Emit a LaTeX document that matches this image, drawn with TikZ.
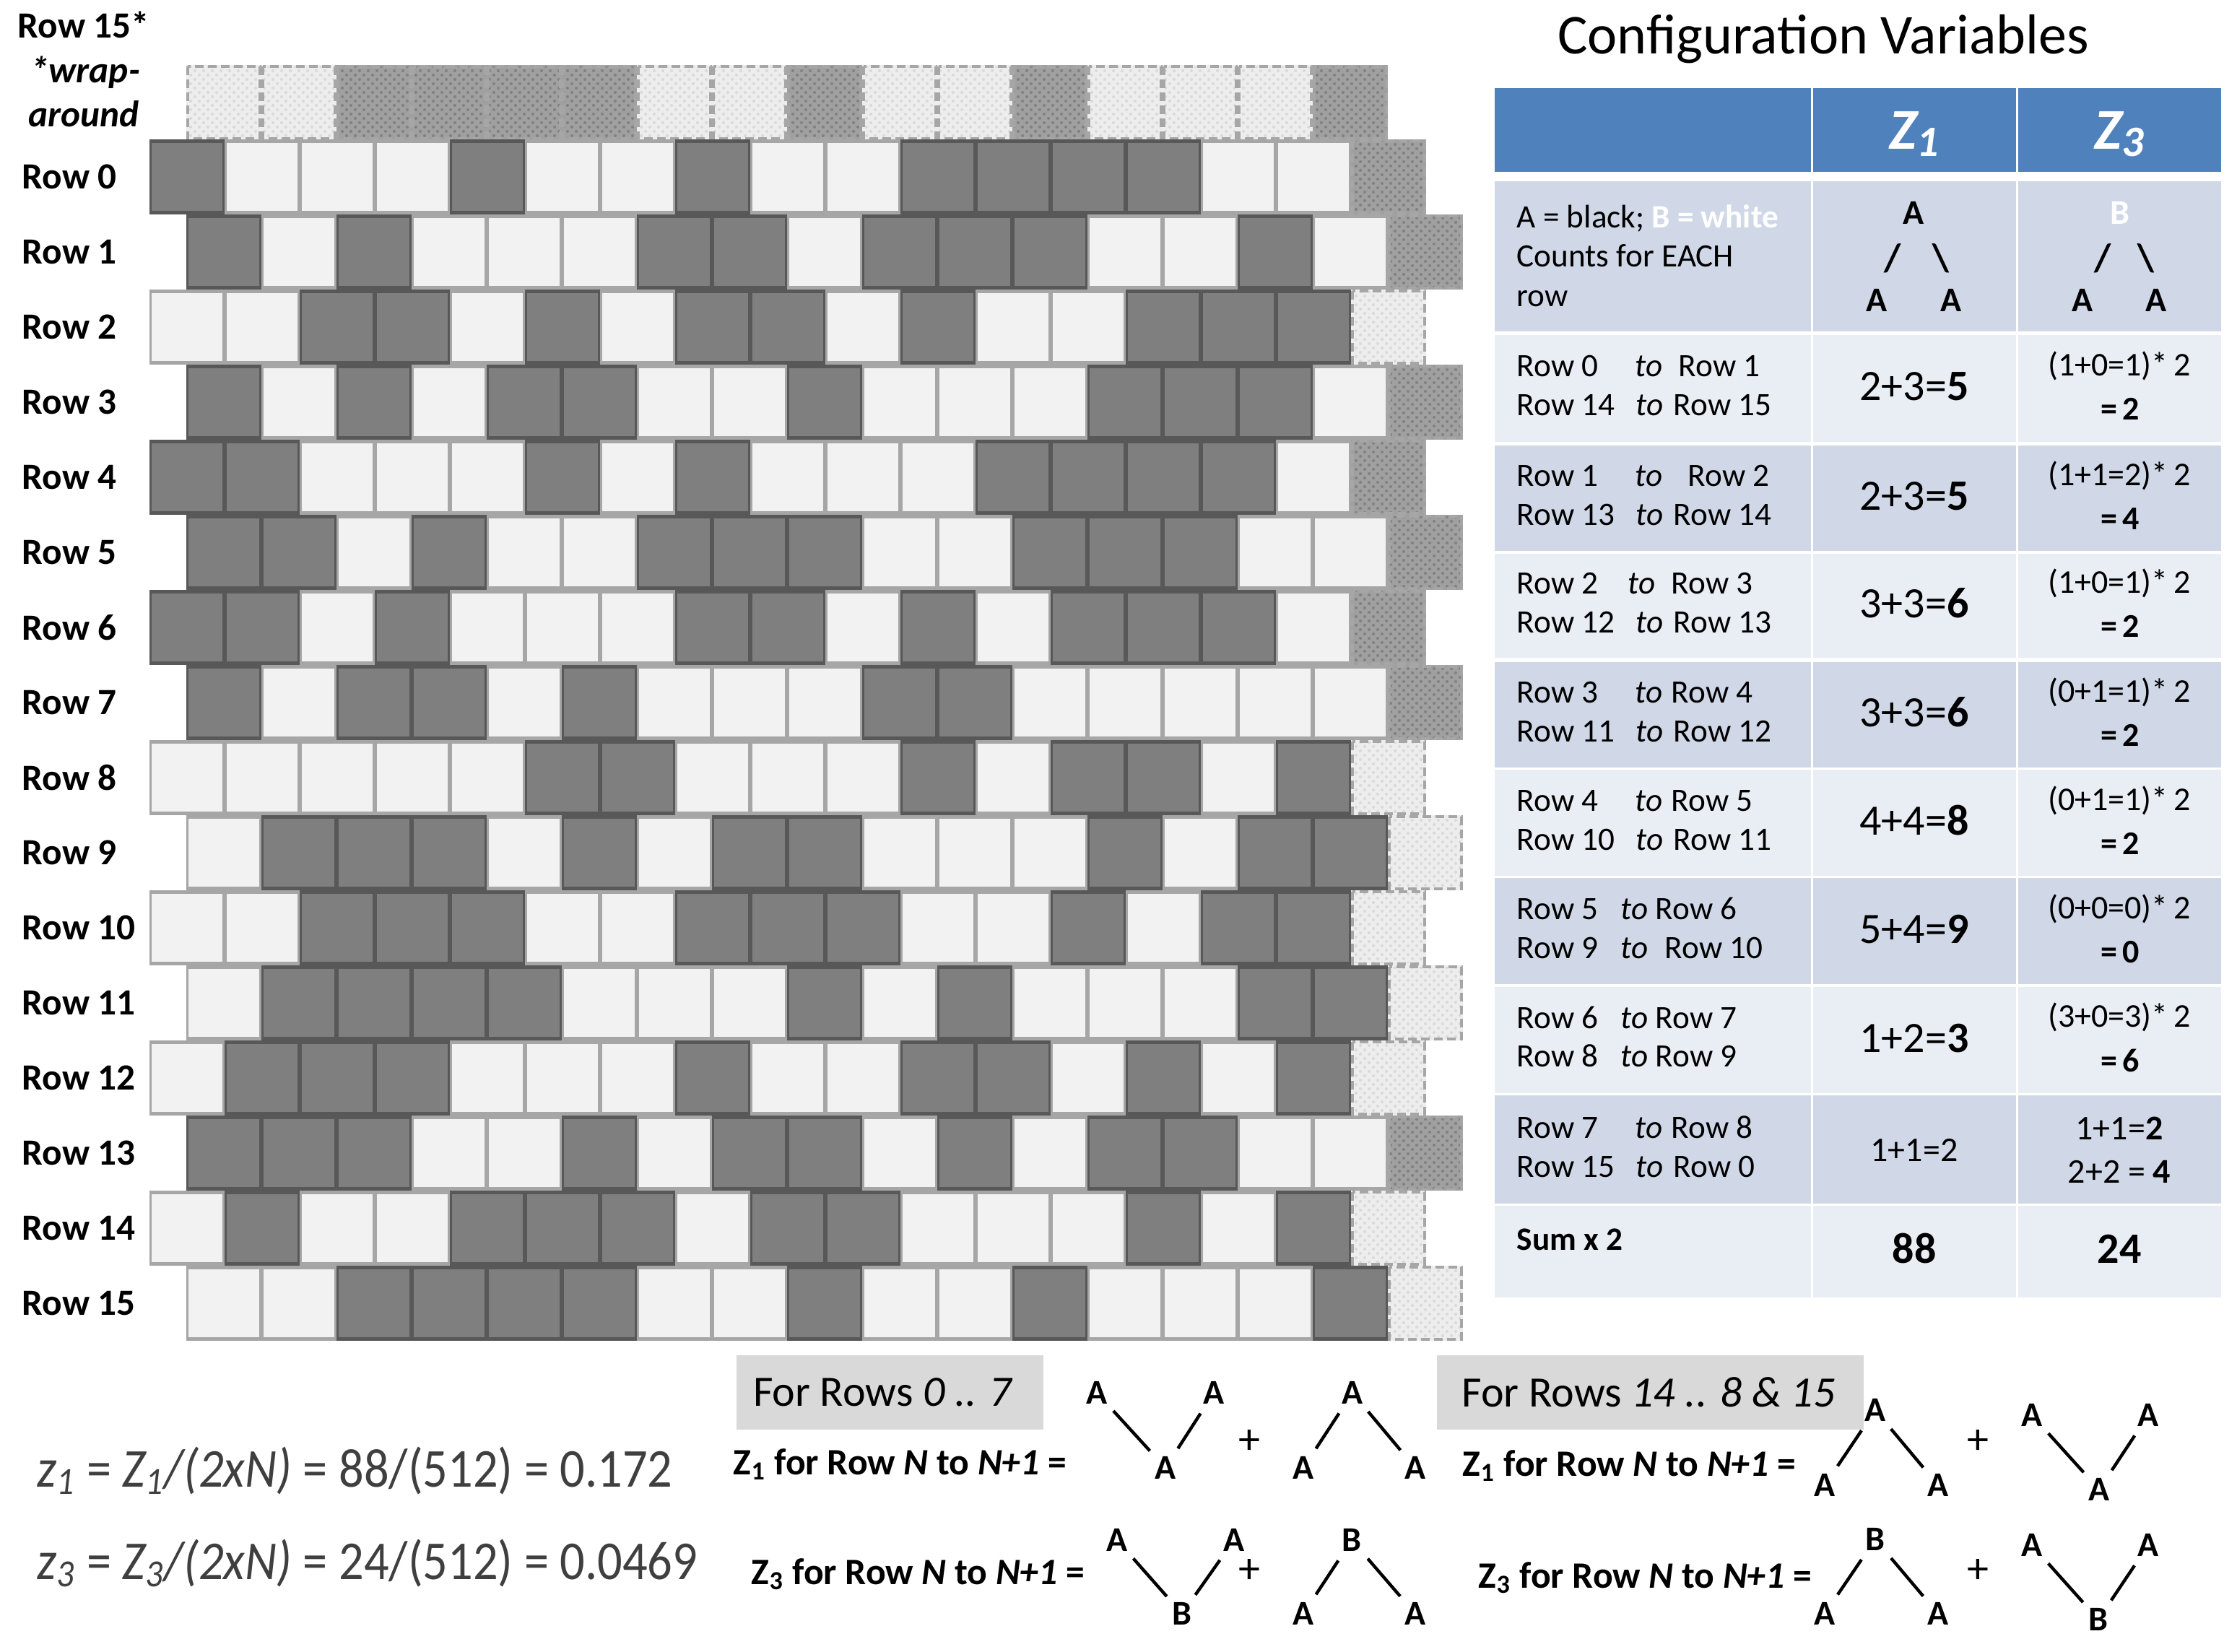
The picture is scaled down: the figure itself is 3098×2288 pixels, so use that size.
\documentclass[tikz,border=0pt]{standalone}
\usepackage{fontspec}
\usepackage{graphicx}
\setmainfont{Carlito}
\usetikzlibrary{patterns}
\definecolor{dkbrick}{HTML}{7F7F7F}
\definecolor{dkedge}{HTML}{585858}
\definecolor{ltbrick}{HTML}{F2F2F2}
\definecolor{ltedge}{HTML}{A6A6A6}
\definecolor{hdrblue}{HTML}{4F81BD}
\definecolor{banda}{HTML}{D0D8E8}
\definecolor{bandb}{HTML}{E9EDF4}
\definecolor{boxgray}{HTML}{D9D9D9}
\definecolor{txtgray}{HTML}{3F3F3F}
\definecolor{texdk}{HTML}{A0A0A0}
\definecolor{texlt}{HTML}{EDEDED}

\newcommand{\brick}[4]{%
  \fill[#4] (#1,#2) rectangle (#1+104,#2+104);
  \fill[#3] (#1+3,#2+5) rectangle (#1+101,#2+99);}
\newcommand{\wrapbrick}[3]{%
  \ifnum#3=1
    \fill[texdk] (#1,#2) rectangle (#1+104,#2+104);
    \fill[pattern=crosshatch dots, pattern color=black!50] (#1+3,#2+3) rectangle (#1+101,#2+101);
  \else
    \fill[texlt] (#1,#2) rectangle (#1+104,#2+104);
    \fill[pattern=crosshatch dots, pattern color=black!15] (#1+3,#2+3) rectangle (#1+101,#2+101);
  \fi
  \draw[ltedge, line width=1.1pt, dash pattern=on 3pt off 1.5pt] (#1+2,#2+2) rectangle (#1+102,#2+102);}
\newcommand{\tline}[6]{%
  \node[tbl, anchor=base west] (#1l) at (2100,#2) {#3};
  \node[tbl, anchor=base west] (#1t) at (#4,#2) {\itshape to};
  \node[tbl, anchor=base west] (#1r) at (#5,#2) {#6};}

\tikzset{
  lbl/.style={font=\fontsize{12.8}{14}\selectfont\bfseries, inner sep=0pt, anchor=west},
  tbl/.style={font=\fontsize{11.3}{13}\selectfont, inner sep=0pt, text=black},
  tbltree/.style={font=\fontsize{12}{14}\selectfont\bfseries, inner sep=0pt, text=black},
  bigv/.style={font=\fontsize{15}{17}\selectfont, inner sep=0pt, anchor=base},
  smlv/.style={font=\fontsize{11.5}{13}\selectfont, inner sep=0pt, anchor=base},
  hdrz/.style={font=\fontsize{20}{22}\selectfont\bfseries\itshape, text=white, inner sep=0pt, anchor=base},
  tree/.style={font=\fontsize{12}{14}\selectfont\bfseries, inner sep=0pt},
  treeline/.style={line width=1.1pt, shorten <=8.5pt, shorten >=8pt},
  plussign/.style={font=\fontsize{15}{17}\selectfont, inner sep=0pt},
  forrow/.style={font=\fontsize{12.9}{14}\selectfont\bfseries, inner sep=0pt, anchor=east},
  formula/.style={font=\fontsize{19}{21}\selectfont, text=txtgray, inner sep=0pt, anchor=base west},
  boxtxt/.style={font=\fontsize{15}{17}\selectfont, inner sep=0pt},
}

\begin{document}
\begin{tikzpicture}[x=0.25pt, y=-0.25pt]
\useasboundingbox (0,0) rectangle (3098,2288);
\fill[white] (0,0) rectangle (3098,2288);

% ---------- top wrap-around row (copy of Row 15)
\foreach \b [count=\i from 0] in {0,0,1,1,1,1,0,0,1,0,0,1,0,0,0,1}{
  \pgfmathsetmacro\xx{258+104*\i}
  \wrapbrick{\xx}{90}{\b}
}

% ---------- brick rows
\foreach \pat [count=\r from 0] in {{1,0,0,0,1,0,0,1,0,0,1,1,1,1,0,0},%
{1,0,1,0,0,0,1,1,0,1,1,1,0,0,1,0},%
{0,0,1,1,0,1,0,1,1,0,1,0,0,1,1,1},%
{1,0,1,0,1,1,0,0,1,0,0,0,1,1,1,0},%
{1,1,0,0,0,1,0,1,0,0,0,1,1,1,1,0},%
{1,1,0,1,0,0,1,1,1,0,0,1,1,1,0,0},%
{1,1,0,1,0,0,0,1,1,0,1,0,1,1,1,0},%
{1,0,1,1,0,1,0,0,0,1,1,0,0,0,0,0},%
{0,0,0,0,0,1,1,0,0,0,1,0,1,1,0,1},%
{0,1,1,1,0,1,0,1,1,0,0,0,1,0,1,1},%
{0,0,1,1,1,0,0,1,1,1,0,0,1,0,1,1},%
{0,1,1,1,1,0,0,0,1,0,1,0,0,0,1,1},%
{0,1,1,1,0,0,0,1,0,0,1,1,0,1,0,1},%
{1,1,1,0,0,1,0,1,1,0,1,0,1,1,0,0},%
{0,1,0,0,1,1,1,0,1,1,0,0,0,1,0,1},%
{0,0,1,1,1,1,0,0,1,0,0,1,0,0,0,1}}{
  \pgfmathsetmacro\xs{207+mod(\r,2)*51}
  \pgfmathsetmacro\ys{193+104*\r}
  \foreach \b [count=\i from 0] in \pat {
    \ifnum\i=0 \xdef\firstb{\b}\fi
    \pgfmathsetmacro\xx{\xs+104*\i}
    \ifnum\b=1 \brick{\xx}{\ys}{dkbrick}{dkedge}\else \brick{\xx}{\ys}{ltbrick}{ltedge}\fi
  }
  \pgfmathsetmacro\wx{\xs+1664}
  \wrapbrick{\wx}{\ys}{\firstb}
}

% ---------- left labels
\node[lbl, anchor=base] (r15star) at (116,53) {Row 15*};
\node[lbl, anchor=base] (wrapa) at (118,115) {\itshape *wrap-};
\node[lbl, anchor=base] (wrapb) at (116,176) {\itshape around};
\foreach \k in {0,...,15}{
  \node[lbl] (rl\k) at (30,245+104*\k) {Row \k};
}

% ---------- table
\node[font=\fontsize{19.5}{22}\selectfont, inner sep=0pt, anchor=base] (title) at (2525,75) {Configuration Variables};
\foreach \ya/\yb/\cc in {122/238/hdrblue, 251/459/banda, 464/612/bandb, 617/763/banda, 767/911/bandb, 917/1063/banda, 1066/1213/bandb, 1216/1363/banda, 1367/1514/bandb, 1517/1667/banda, 1670/1797/bandb}{
  \foreach \xa/\xb in {2070/2508, 2511/2792, 2795/3076}{
    \fill[\cc] (\xa,\ya) rectangle (\xb,\yb);
  }
}
\node[hdrz] (hz1) at (2651,207) {Z\raisebox{-2.5pt}{\fontsize{15}{15}\selectfont 1}};
\node[hdrz] (hz3) at (2935,207) {Z\raisebox{-2.5pt}{\fontsize{15}{15}\selectfont 3}};

\node[tbl, anchor=base west] (key1) at (2100,316) {A = black; \textcolor{white}{\bfseries B = white}};
\node[tbl, anchor=base west] (key2) at (2100,370) {Counts for EACH};
\node[tbl, anchor=base west] (key3) at (2100,425) {row};

\node[tbltree, anchor=base] (ta1) at (2650,311) {A};
\node[tbltree, font=\fontsize{13.5}{14}\selectfont\bfseries] (ts1) at (2621,358) {/};
\node[tbltree, font=\fontsize{13.5}{14}\selectfont\bfseries] (tb1) at (2688,358) {\textbackslash};
\node[tbltree, anchor=base] (ta2) at (2599,432) {A};
\node[tbltree, anchor=base] (ta3) at (2702,432) {A};
\node[tbltree, anchor=base, text=white] (tB1) at (2936,311) {B};
\node[tbltree, font=\fontsize{13.5}{14}\selectfont\bfseries] (ts2) at (2912,358) {/};
\node[tbltree, font=\fontsize{13.5}{14}\selectfont\bfseries] (tb2) at (2972,358) {\textbackslash};
\node[tbltree, anchor=base] (ta4) at (2884,432) {A};
\node[tbltree, anchor=base] (ta5) at (2986,432) {A};

\tline{ra}{522}{Row 0}{2264}{2324}{Row 1}
\tline{rb}{576}{Row 14}{2265}{2317}{Row 15}
\tline{rc}{674}{Row 1}{2264}{2337}{Row 2}
\tline{rd}{728}{Row 13}{2265}{2317}{Row 14}
\tline{re}{823}{Row 2}{2254}{2314}{Row 3}
\tline{rf}{877}{Row 12}{2265}{2317}{Row 13}
\tline{rg}{974}{Row 3}{2264}{2314}{Row 4}
\tline{rh}{1028}{Row 11}{2265}{2317}{Row 12}
\tline{ri}{1124}{Row 4}{2264}{2314}{Row 5}
\tline{rj}{1178}{Row 10}{2265}{2317}{Row 11}
\tline{rk}{1274}{Row 5}{2244}{2292}{Row 6}
\tline{rl}{1328}{Row 9}{2244}{2305}{Row 10}
\tline{rm}{1424}{Row 6}{2244}{2292}{Row 7}
\tline{rn}{1478}{Row 8}{2244}{2292}{Row 9}
\tline{ro}{1576}{Row 7}{2264}{2314}{Row 8}
\tline{rp}{1630}{Row 15}{2265}{2317}{Row 0}

\node[bigv] (v1) at (2651,555) {2+3=\textbf{5}};
\node[bigv] (v2) at (2651,707) {2+3=\textbf{5}};
\node[bigv] (v3) at (2651,856) {3+3=\textbf{6}};
\node[bigv] (v4) at (2651,1007) {3+3=\textbf{6}};
\node[bigv] (v5) at (2651,1157) {4+4=\textbf{8}};
\node[bigv] (v6) at (2651,1307) {5+4=\textbf{9}};
\node[bigv] (v7) at (2651,1457) {1+2=\textbf{3}};
\node[smlv, font=\fontsize{12}{14}\selectfont] (v8) at (2651,1608) {1+1=2};

\node[smlv] (w1a) at (2935,521) {(1+0=1)*\,2};
\node[smlv] (w1b) at (2936,582) {\bfseries =\,2};
\node[smlv] (w2a) at (2935,673) {(1+1=2)*\,2};
\node[smlv] (w2b) at (2936,734) {\bfseries =\,4};
\node[smlv] (w3a) at (2935,822) {(1+0=1)*\,2};
\node[smlv] (w3b) at (2936,883) {\bfseries =\,2};
\node[smlv] (w4a) at (2935,973) {(0+1=1)*\,2};
\node[smlv] (w4b) at (2936,1034) {\bfseries =\,2};
\node[smlv] (w5a) at (2935,1123) {(0+1=1)*\,2};
\node[smlv] (w5b) at (2936,1184) {\bfseries =\,2};
\node[smlv] (w6a) at (2935,1273) {(0+0=0)*\,2};
\node[smlv] (w6b) at (2936,1334) {\bfseries =\,0};
\node[smlv] (w7a) at (2935,1423) {(3+0=3)*\,2};
\node[smlv] (w7b) at (2936,1484) {\bfseries =\,6};
\node[smlv, font=\fontsize{12}{14}\selectfont] (w8a) at (2935,1578) {1+1=\textbf{2}};
\node[smlv, font=\fontsize{12}{14}\selectfont] (w8b) at (2935,1638) {2+2 = \textbf{4}};

\node[tbl, anchor=base west] (sumlbl) at (2100,1731) {\bfseries Sum x 2};
\node[bigv] (sum1) at (2651,1749) {\bfseries 88};
\node[bigv] (sum3) at (2935,1749) {\bfseries 24};

% ---------- bottom formulas
\node[formula] (fz1) at (51,2059) {\scalebox{0.9}[1]{{\itshape z}\textsubscript{\itshape 1} = {\itshape Z}\textsubscript{\itshape 1}{\itshape /(2xN)} = 88/(512) = 0.172}};
\node[formula] (fz3) at (51,2187) {\scalebox{0.9}[1]{{\itshape z}\textsubscript{\itshape 3} = {\itshape Z}\textsubscript{\itshape 3}{\itshape /(2xN)} = 24/(512) = 0.0469}};

% ---------- gray boxes
\fill[boxgray] (1020,1877) rectangle (1445,1980);
\node[boxtxt] (box1) at (1223,1928) {For Rows \textit{0 .. 7}};
\fill[boxgray] (1990,1877) rectangle (2581,1980);
\node[boxtxt] (box2) at (2283,1928) {For Rows \textit{14 .. 8 \& 15}};

\node[forrow] (lf1) at (1478,2028) {Z\textsubscript{1} for Row \textit{N} to \textit{N+1} =};
\node[forrow] (lf3) at (1503,2180) {Z\textsubscript{3} for Row \textit{N} to \textit{N+1} =};
\node[forrow] (rf1) at (2488,2030) {Z\textsubscript{1} for Row \textit{N} to \textit{N+1} =};
\node[forrow] (rf3) at (2510,2185) {Z\textsubscript{3} for Row \textit{N} to \textit{N+1} =};

% ---------- little trees, left
\node[tree] (la1) at (1519,1929) {A};
\node[tree] (la2) at (1681,1929) {A};
\node[tree] (la3) at (1614,2033) {A};
\draw[treeline] (la1.center) -- (la3.center);
\draw[treeline] (la2.center) -- (la3.center);
\node[plussign] (lp1) at (1730,1997) {+};
\node[tree] (lb1) at (1873,1929) {A};
\node[tree] (lb2) at (1805,2033) {A};
\node[tree] (lb3) at (1960,2033) {A};
\draw[treeline] (lb1.center) -- (lb2.center);
\draw[treeline] (lb1.center) -- (lb3.center);

\node[tree] (lc1) at (1547,2133) {A};
\node[tree] (lc2) at (1709,2133) {A};
\node[tree] (lc3) at (1637,2235) {B};
\draw[treeline] (lc1.center) -- (lc3.center);
\draw[treeline] (lc2.center) -- (lc3.center);
\node[plussign] (lp2) at (1730,2176) {+};
\node[tree] (ld1) at (1872,2133) {B};
\node[tree] (ld2) at (1805,2235) {A};
\node[tree] (ld3) at (1960,2235) {A};
\draw[treeline] (ld1.center) -- (ld2.center);
\draw[treeline] (ld1.center) -- (ld3.center);

% ---------- little trees, right
\node[tree] (ra1) at (2597,1953) {A};
\node[tree] (ra2) at (2527,2057) {A};
\node[tree] (ra3) at (2684,2057) {A};
\draw[treeline] (ra1.center) -- (ra2.center);
\draw[treeline] (ra1.center) -- (ra3.center);
\node[plussign] (rp1) at (2739,1997) {+};
\node[tree] (rb1) at (2814,1960) {A};
\node[tree] (rb2) at (2975,1960) {A};
\node[tree] (rb3) at (2907,2063) {A};
\draw[treeline] (rb1.center) -- (rb3.center);
\draw[treeline] (rb2.center) -- (rb3.center);

\node[tree] (rc1) at (2597,2132) {B};
\node[tree] (rc2) at (2527,2235) {A};
\node[tree] (rc3) at (2684,2235) {A};
\draw[treeline] (rc1.center) -- (rc2.center);
\draw[treeline] (rc1.center) -- (rc3.center);
\node[plussign] (rp2) at (2739,2176) {+};
\node[tree] (rd1) at (2814,2140) {A};
\node[tree] (rd2) at (2975,2140) {A};
\node[tree] (rd3) at (2906,2243) {B};
\draw[treeline] (rd1.center) -- (rd3.center);
\draw[treeline] (rd2.center) -- (rd3.center);
\end{tikzpicture}
\end{document}
